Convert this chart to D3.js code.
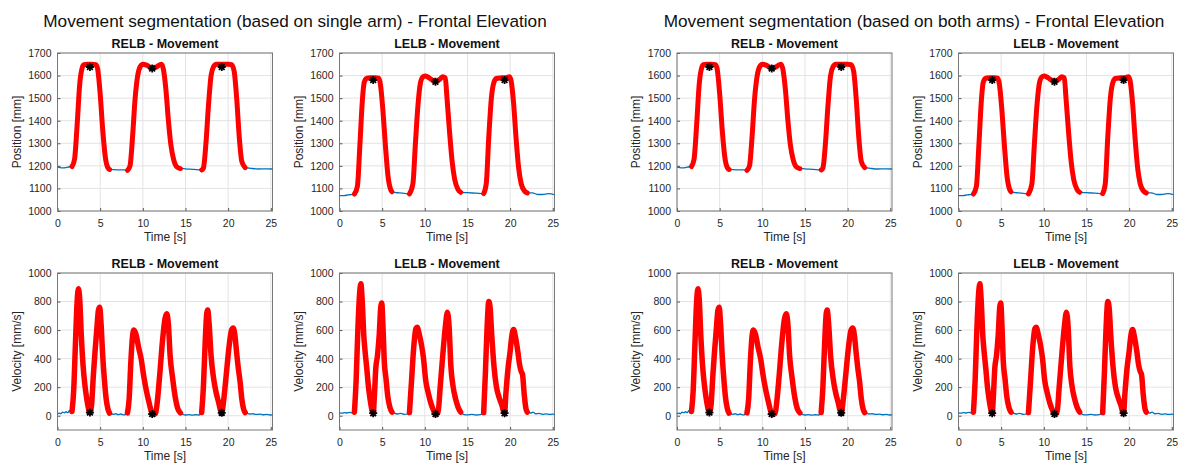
<!DOCTYPE html>
<html>
<head>
<meta charset="utf-8">
<script src="https://cdn.jsdelivr.net/npm/d3@7"></script>
<style>
  body { margin: 0; background: white; }
  text { font-family: "Liberation Sans", Arial, Helvetica, sans-serif; }
</style>
</head>
<body>
<script>
// figure titles (one per half of the figure)
var figureTitles = [
    "Movement segmentation (based on single arm) - Frontal Elevation",
    "Movement segmentation (based on both arms) - Frontal Elevation"
]
var markerNames = ["RELB", "LELB"]

var timeTicks = [0, 5, 10, 15, 20, 25]
var positionTicks = [1000, 1100, 1200, 1300, 1400, 1500, 1600, 1700]
var velocityTicks = [0, 200, 400, 600, 800, 1000]

// [time s, position mm]
var relbPosition = [
    [0,1195],[0.5,1191],[1.0,1192],[1.4,1196],[1.7,1197],[2.0,1230],[2.3,1380],[2.6,1560],
    [2.9,1635],[3.1,1648],[3.5,1650],[4.0,1650],[4.5,1648],[4.7,1630],[5.0,1520],[5.3,1360],
    [5.6,1240],[5.9,1192],[6.1,1184],[7.0,1182],[7.8,1182],[8.2,1180],[8.5,1200],[8.8,1330],
    [9.1,1500],[9.4,1600],[9.7,1640],[10.0,1650],[10.5,1645],[11.0,1635],[11.5,1637],[12.0,1648],
    [12.2,1650],[12.4,1630],[12.7,1540],[13.0,1400],[13.3,1290],[13.6,1230],[14.0,1195],[14.4,1188],
    [15.0,1187],[16.0,1184],[16.9,1182],[17.1,1190],[17.4,1300],[17.7,1470],[18.0,1600],[18.3,1640],
    [18.6,1650],[19.0,1650],[19.5,1650],[20.0,1650],[20.4,1648],[20.7,1620],[21.0,1500],[21.3,1330],
    [21.6,1220],[22.0,1192],[22.5,1190],[23.5,1186],[24.5,1187],[25.2,1186]
]
var lelbPosition = [
    [0,1068],[0.5,1068],[1.0,1071],[1.5,1074],[1.75,1075],[2.1,1110],[2.4,1300],[2.7,1500],
    [2.9,1570],[3.2,1588],[3.6,1590],[4.2,1590],[4.6,1588],[4.8,1560],[5.1,1440],[5.4,1280],
    [5.7,1150],[6.0,1095],[6.15,1085],[7.0,1080],[7.8,1077],[8.2,1076],[8.6,1120],[8.9,1300],
    [9.2,1470],[9.5,1570],[9.8,1595],[10.1,1598],[10.5,1590],[11.0,1578],[11.4,1576],[11.8,1585],
    [12.1,1595],[12.4,1590],[12.6,1500],[12.9,1350],[13.2,1220],[13.5,1140],[13.9,1095],[14.2,1083],
    [15.0,1081],[16.0,1079],[16.9,1077],[17.2,1120],[17.5,1330],[17.8,1500],[18.1,1570],[18.4,1587],
    [19.0,1590],[19.6,1592],[19.9,1595],[20.1,1580],[20.4,1480],[20.7,1320],[21.0,1190],[21.3,1120],
    [21.7,1088],[22.0,1080],[22.6,1080],[23.3,1073],[24.0,1074],[24.6,1077],[25.2,1072]
]

// [time s, velocity mm/s]
var relbVelocity = [
    [0,12],[0.2,18],[0.4,14],[0.6,25],[0.8,20],[1.0,28],[1.2,22],[1.4,35],[1.55,25],[1.7,30],
    [1.9,180],[2.1,500],[2.3,800],[2.45,890],[2.6,820],[2.8,550],[3.0,350],[3.2,220],[3.4,130],
    [3.6,60],[3.8,22],[4.0,80],[4.2,280],[4.4,450],[4.6,600],[4.8,740],[4.95,760],[5.1,650],
    [5.3,420],[5.5,250],[5.7,120],[5.9,50],[6.1,18],[6.3,15],[6.5,10],[6.8,14],[7.1,8],[7.4,12],
    [7.7,6],[8.0,10],[8.2,20],[8.4,120],[8.6,380],[8.8,560],[8.95,600],[9.2,570],[9.5,480],
    [9.8,400],[10.1,280],[10.4,180],[10.7,100],[11.0,30],[11.2,10],[11.5,15],[11.7,100],[12.0,300],
    [12.3,520],[12.6,680],[12.8,715],[13.0,640],[13.2,420],[13.5,260],[13.8,130],[14.1,50],
    [14.4,20],[14.7,10],[15.0,5],[15.4,8],[15.8,4],[16.2,7],[16.6,5],[16.9,22],[17.1,200],
    [17.3,500],[17.5,720],[17.6,740],[17.8,620],[18.0,420],[18.3,260],[18.6,160],[18.9,90],
    [19.1,40],[19.25,20],[19.5,120],[19.8,300],[20.1,480],[20.4,600],[20.6,615],[20.8,560],
    [21.0,440],[21.2,330],[21.4,240],[21.6,120],[21.8,50],[22.0,22],[22.2,18],[22.5,12],
    [22.9,14],[23.3,9],[23.7,11],[24.1,7],[24.5,9],[24.9,5],[25.2,6]
]
var lelbVelocity = [
    [0,20],[0.3,18],[0.6,22],[0.9,19],[1.2,23],[1.5,20],[1.75,25],[1.95,250],[2.15,600],
    [2.35,850],[2.5,925],[2.65,820],[2.85,560],[3.0,450],[3.2,330],[3.4,200],[3.6,110],[3.8,40],
    [3.95,18],[4.1,150],[4.25,330],[4.45,420],[4.65,560],[4.85,770],[4.95,790],[5.1,620],
    [5.25,380],[5.45,260],[5.65,140],[5.9,60],[6.15,25],[6.4,18],[6.8,12],[7.2,16],[7.6,9],
    [8.0,14],[8.2,22],[8.45,250],[8.7,480],[8.95,610],[9.1,620],[9.35,570],[9.6,500],[9.85,400],
    [10.1,250],[10.4,160],[10.7,90],[11.0,40],[11.25,12],[11.55,20],[11.8,200],[12.1,420],
    [12.4,620],[12.65,725],[12.85,620],[13.05,350],[13.3,210],[13.6,120],[13.9,60],[14.2,25],
    [14.6,8],[15.0,6],[15.5,9],[16.0,5],[16.5,8],[16.9,22],[17.1,300],[17.3,620],[17.5,800],
    [17.65,760],[17.85,560],[18.1,350],[18.4,200],[18.7,130],[19.0,80],[19.35,18],[19.5,150],
    [19.75,330],[20.0,450],[20.2,560],[20.4,605],[20.6,560],[20.9,450],[21.1,360],[21.3,310],
    [21.45,290],[21.65,150],[21.85,50],[22.0,25],[22.2,30],[22.4,18],[22.7,25],[23.0,14],
    [23.4,16],[23.8,10],[24.2,13],[24.6,9],[25.0,11],[25.2,10]
]

// movement segments [start, end] in seconds
var relbSegments = [[1.7, 6.1], [8.2, 14.4], [16.9, 22.0]]
var lelbSegments = [[1.75, 6.15], [8.2, 14.2], [16.9, 22.0]]

// segmentation points: [time s, position mm, velocity mm/s]
var relbStars = [[3.8, 1638, 22], [11.1, 1631, 12], [19.25, 1638, 20]]
var lelbStars = [[3.95, 1580, 18], [11.25, 1573, 12], [19.35, 1580, 18]]

var width = 1189, height = 466
var svg = d3.select("body").append("svg")
    .attr("width", width)
    .attr("height", height)
    .style("background", "white")

var colX = [57.5, 339.5, 677, 958.5]
var plotW = 215
var rowY = [53, 273]
var plotH = [158, 157]
var titleX = [295, 914]

var color_blue = "#0072BD"
var color_red = "#ff0000"
var text_color = "#262626"

function starPath(s){
    // MATLAB '*' marker: plus + cross
    let d = s * 0.72
    return "M" + (-s) + ",0L" + s + ",0M0," + (-s) + "L0," + s +
        "M" + (-d) + "," + (-d) + "L" + d + "," + d + "M" + (-d) + "," + d + "L" + d + "," + (-d)
}

function drawPanel(x0, y0, w, h, p){
    let g = svg.append("g").attr("transform", "translate(" + x0 + "," + y0 + ")")
    let x = d3.scaleLinear().domain([0, 25.2]).range([0, w])
    let y = d3.scaleLinear().domain(p.yDomain).range([h, 0])

    // grid
    g.selectAll("line.vgrid").data(timeTicks).enter().append("line")
        .attr("x1", d => x(d)).attr("x2", d => x(d))
        .attr("y1", 0).attr("y2", h)
        .style("stroke", "#e3e3e3").style("stroke-width", 1)
    g.selectAll("line.hgrid").data(p.ticks).enter().append("line")
        .attr("x1", 0).attr("x2", w)
        .attr("y1", d => y(d)).attr("y2", d => y(d))
        .style("stroke", "#e3e3e3").style("stroke-width", 1)

    // axes (inward ticks, MATLAB style)
    let xAxis = g.append("g").attr("transform", "translate(0," + h + ")")
        .call(d3.axisBottom(x).tickValues(timeTicks).tickFormat(d3.format("d")).tickSize(-3).tickPadding(9))
    let yAxis = g.append("g")
        .call(d3.axisLeft(y).tickValues(p.ticks).tickFormat(d3.format("d")).tickSize(-3).tickPadding(6))
    ;[xAxis, yAxis].forEach(a => {
        a.select(".domain").remove()
        a.selectAll("line").style("stroke", "#555")
        a.selectAll("text").style("font-size", "10.5px").style("fill", text_color)
            .style("font-family", "Liberation Sans, Arial, sans-serif")
    })

    // box
    g.append("rect").attr("width", w).attr("height", h)
        .style("fill", "none").style("stroke", "#777").style("stroke-width", 1)

    let line = d3.line().x(d => x(d[0])).y(d => y(d[1])).curve(d3.curveMonotoneX)

    g.append("path").datum(p.data).attr("d", line)
        .style("fill", "none").style("stroke", color_blue).style("stroke-width", 1.3)

    p.segments.forEach(seg => {
        let part = p.data.filter(d => d[0] >= seg[0] && d[0] <= seg[1])
        g.append("path").datum(part).attr("d", line)
            .style("fill", "none").style("stroke", color_red)
            .style("stroke-width", p.redWidth).style("stroke-linecap", "round").style("stroke-linejoin", "round")
    })

    g.selectAll("path.star").data(p.stars).enter().append("path")
        .classed("star", true)
        .attr("transform", d => "translate(" + x(d[0]) + "," + y(d[1]) + ")")
        .attr("d", starPath(4))
        .style("fill", "none").style("stroke", "black").style("stroke-width", 1.8)

    // labels
    g.append("text").attr("x", w / 2).attr("y", -5.5)
        .attr("text-anchor", "middle")
        .style("font-size", "12.5px").style("font-weight", "bold").style("fill", "#111")
        .text(p.title)
    g.append("text").attr("x", w / 2).attr("y", h + 30)
        .attr("text-anchor", "middle")
        .style("font-size", "12px").style("fill", text_color)
        .text("Time [s]")
    g.append("text")
        .attr("transform", "translate(-37," + (h / 2) + ") rotate(-90)")
        .attr("text-anchor", "middle")
        .style("font-size", "12px").style("fill", text_color)
        .text(p.ylabel)
}

var positions = [relbPosition, lelbPosition]
var velocities = [relbVelocity, lelbVelocity]
var segments = [relbSegments, lelbSegments]
var stars = [relbStars, lelbStars]

figureTitles.forEach((title, half) => {
    svg.append("text").attr("x", titleX[half]).attr("y", 27)
        .attr("text-anchor", "middle")
        .style("font-size", "17.2px").style("fill", "#111")
        .text(title)

    markerNames.forEach((name, m) => {
        let cx = colX[half * 2 + m]
        drawPanel(cx, rowY[0], plotW, plotH[0], {
            title: name + " - Movement",
            yDomain: [1000, 1700],
            ticks: positionTicks,
            ylabel: "Position [mm]",
            data: positions[m],
            segments: segments[m],
            stars: stars[m].map(s => [s[0], s[1]]),
            redWidth: 5
        })
        drawPanel(cx, rowY[1], plotW, plotH[1], {
            title: name + " - Movement",
            yDomain: [-100, 1000],
            ticks: velocityTicks,
            ylabel: "Velocity [mm/s]",
            data: velocities[m],
            segments: segments[m],
            stars: stars[m].map(s => [s[0], s[2]]),
            redWidth: 5.5
        })
    })
})
</script>
</body>
</html>
